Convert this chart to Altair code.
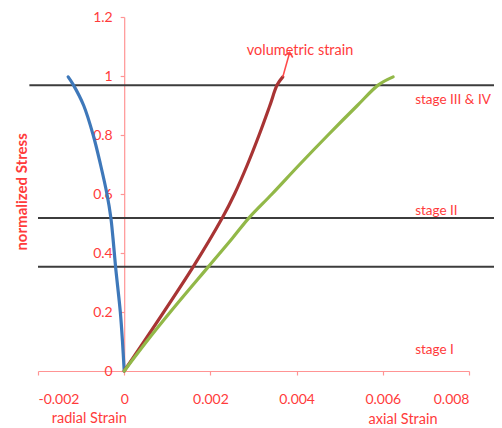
import altair as alt
import pandas as pd

# ---- data ----
radial_stress = [0, 0.1, 0.2, 0.353, 0.45, 0.52, 0.6, 0.7, 0.8, 0.9, 0.97, 0.997]
radial_strain = [0, -0.00004, -0.00009, -0.0002, -0.00026, -0.00031, -0.0004, -0.00055, -0.00072, -0.00094, -0.00118, -0.0013]

vol_stress = [0, 0.353, 0.52, 0.6, 0.7, 0.8, 0.9, 0.97, 0.997]
vol_strain = [0, 0.0016, 0.00228, 0.00256, 0.00286, 0.00313, 0.00338, 0.00355, 0.00368]

axial_stress = [0, 0.1, 0.2, 0.353, 0.45, 0.52, 0.6, 0.7, 0.8, 0.9, 0.97, 0.997]
axial_strain = [0, 0.00052, 0.00107, 0.00195, 0.00251, 0.0029, 0.00343, 0.00407, 0.00473, 0.00541, 0.0059, 0.00624]

arrow_x = [0.00368, 0.00384]
arrow_y = [0.997, 1.08]

stage_y = [0.969, 0.519, 0.353]
stage_x_start = [-0.0022, -0.002, -0.002]
stage_x_end = [0.0086, 0.0086, 0.0086]

stage_labels = ["stage III & IV", "stage II", "stage I"]
stage_label_y = [0.919, 0.542, 0.071]
stage_label_x = [0.00675, 0.00675, 0.00675]

note_text = ["volumetric strain", "radial Strain", "axial Strain"]
note_x = [0.00408, -0.00081, 0.00647]
note_y = [1.085, -0.163, -0.166]

x_ticks = [-0.002, 0, 0.002, 0.004, 0.006, 0.008]
y_ticks = [0, 0.2, 0.4, 0.6, 0.8, 1, 1.2]

FONT = "Lato"
FS = 14.5
RED_TEXT = "#ff3b3b"
PINK = "#ff9494"

xs = alt.Scale(domain=[-0.002, 0.008], nice=False, zero=False)
ys = alt.Scale(domain=[0, 1.2], nice=False)

curves = pd.DataFrame(
    [{"s": "radial", "x": a, "y": b, "o": i} for i, (a, b) in enumerate(zip(radial_strain, radial_stress))]
    + [{"s": "volumetric", "x": a, "y": b, "o": i} for i, (a, b) in enumerate(zip(vol_strain, vol_stress))]
    + [{"s": "axial", "x": a, "y": b, "o": i} for i, (a, b) in enumerate(zip(axial_strain, axial_stress))]
)

x_enc = alt.X(
    "x:Q", scale=xs,
    axis=alt.Axis(
        values=x_ticks, title=None, grid=False,
        labelExpr="datum.value < 0 ? '-' + format(-datum.value, '.3f') : (datum.value == 0 ? '0' : format(datum.value, '.3f'))",
        labelPadding=17,
    ),
)
y_enc = alt.Y(
    "y:Q", scale=ys,
    axis=alt.Axis(values=y_ticks, title=None, grid=False, labelExpr="'' + datum.value",
                  offset=-86.2, labelPadding=8),
)

lines = alt.Chart(curves).mark_line(strokeWidth=3.2, strokeCap="round", interpolate="catmull-rom").encode(
    x=x_enc, y=y_enc, order="o:Q",
    color=alt.Color("s:N", scale=alt.Scale(domain=["radial", "volumetric", "axial"],
                                           range=["#3e78ba", "#a83434", "#92b848"]), legend=None),
    detail="s:N",
)

stages = pd.DataFrame({"y": stage_y, "x": stage_x_start, "x2": stage_x_end})
rules = alt.Chart(stages).mark_rule(color="#3c3c3c", strokeWidth=2, clip=False).encode(
    x=alt.X("x:Q", scale=xs), x2="x2:Q", y=alt.Y("y:Q", scale=ys)
)

arrow_df = pd.DataFrame({"x": arrow_x, "y": arrow_y, "o": [0, 1]})
arrow_line = alt.Chart(arrow_df).mark_line(color="#ff4a4a", strokeWidth=1.6).encode(
    x=alt.X("x:Q", scale=xs), y=alt.Y("y:Q", scale=ys), order="o:Q"
)
arrow_head = alt.Chart(arrow_df.iloc[[1]]).mark_point(
    shape="M-1,1L0,0L1,1", filled=False, color="#ff4a4a", strokeWidth=1.6, size=70, angle=14, opacity=1
).encode(x=alt.X("x:Q", scale=xs), y=alt.Y("y:Q", scale=ys))

stage_df = pd.DataFrame({"t": stage_labels, "x": stage_label_x, "y": stage_label_y})
stage_txt = alt.Chart(stage_df).mark_text(
    align="left", baseline="middle", font=FONT, fontSize=13.5, color=RED_TEXT
).encode(x=alt.X("x:Q", scale=xs), y=alt.Y("y:Q", scale=ys), text="t:N")

note_df = pd.DataFrame({"t": note_text, "x": note_x, "y": note_y})
note_txt = alt.Chart(note_df).mark_text(
    align="center", baseline="middle", font=FONT, fontSize=FS, color=RED_TEXT
).encode(x=alt.X("x:Q", scale=xs), y=alt.Y("y:Q", scale=ys), text="t:N")

ytitle_df = pd.DataFrame({"t": ["normalized Stress"], "x": [-0.00236], "y": [0.607]})
ytitle = alt.Chart(ytitle_df).mark_text(
    align="center", baseline="middle", font=FONT, fontSize=15, fontWeight="bold", color=RED_TEXT, angle=270
).encode(x=alt.X("x:Q", scale=xs), y=alt.Y("y:Q", scale=ys), text="t:N")

chart = alt.layer(rules, lines, arrow_line, arrow_head, stage_txt, note_txt, ytitle).properties(
    width=431, height=354,
    autosize=alt.AutoSizeParams(type="none"),
    padding={"left": 30, "top": 9, "right": 25, "bottom": 57},
).configure_view(stroke=None).configure_axis(
    domainColor=PINK, tickColor=PINK, labelColor=RED_TEXT, labelFont=FONT, labelFontSize=14,
    tickSize=4, domainWidth=1.2, tickWidth=1.2,
)

chart.save("out.html", embed_options={"renderer": "svg", "actions": False})
